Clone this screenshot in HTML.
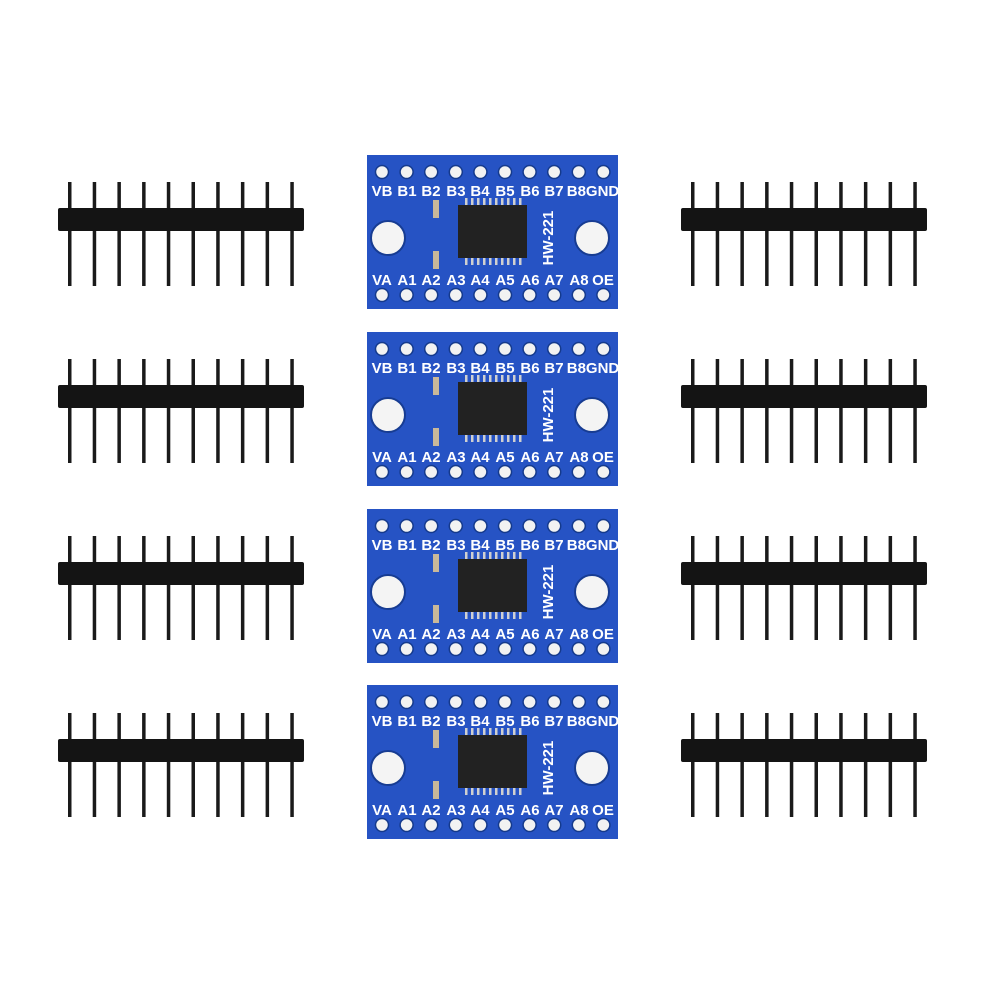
<!DOCTYPE html>
<html><head><meta charset="utf-8"><style>
html,body{margin:0;padding:0;background:#fff;}
svg{display:block}
.l{font-family:"Liberation Sans",sans-serif;font-weight:bold;font-size:15px;fill:#fff;}
</style></head><body>
<svg width="1001" height="1000" viewBox="0 0 1001 1000" xmlns="http://www.w3.org/2000/svg">
<defs>
<g id="hdr">
  <g fill="#1a1a1a">
    <rect x="0" y="0" width="3.5" height="104"/><rect x="24.7" y="0" width="3.5" height="104"/>
    <rect x="49.4" y="0" width="3.5" height="104"/><rect x="74.1" y="0" width="3.5" height="104"/>
    <rect x="98.8" y="0" width="3.5" height="104"/><rect x="123.5" y="0" width="3.5" height="104"/>
    <rect x="148.2" y="0" width="3.5" height="104"/><rect x="172.9" y="0" width="3.5" height="104"/>
    <rect x="197.6" y="0" width="3.5" height="104"/><rect x="222.3" y="0" width="3.5" height="104"/>
  </g>
  <rect x="-10" y="26" width="246" height="23" rx="2" fill="#141414"/>
</g>
<g id="holes">
  <g fill="#f2f2f2" stroke="#153a8c" stroke-width="1.5">
    <circle cx="15" cy="0" r="6.5"/><circle cx="39.6" cy="0" r="6.5"/><circle cx="64.2" cy="0" r="6.5"/>
    <circle cx="88.8" cy="0" r="6.5"/><circle cx="113.4" cy="0" r="6.5"/><circle cx="138" cy="0" r="6.5"/>
    <circle cx="162.6" cy="0" r="6.5"/><circle cx="187.2" cy="0" r="6.5"/><circle cx="211.8" cy="0" r="6.5"/>
    <circle cx="236.4" cy="0" r="6.5"/>
  </g>
</g>
<g id="body">
  <rect x="0" y="0" width="251" height="154" fill="#2653c4"/>
  <use href="#holes" y="17"/>
  <use href="#holes" y="140"/>
  <circle cx="21" cy="83" r="17" fill="#f4f4f4" stroke="#173c92" stroke-width="2"/>
  <circle cx="225" cy="83" r="17" fill="#f4f4f4" stroke="#173c92" stroke-width="2"/>
  <g fill="#d0d0d0">
    <rect x="98" y="43" width="2.5" height="8"/><rect x="104" y="43" width="2.5" height="8"/><rect x="110" y="43" width="2.5" height="8"/><rect x="116" y="43" width="2.5" height="8"/><rect x="122" y="43" width="2.5" height="8"/><rect x="128" y="43" width="2.5" height="8"/><rect x="134" y="43" width="2.5" height="8"/><rect x="140" y="43" width="2.5" height="8"/><rect x="146" y="43" width="2.5" height="8"/><rect x="152" y="43" width="2.5" height="8"/>
    <rect x="98" y="102" width="2.5" height="8"/><rect x="104" y="102" width="2.5" height="8"/><rect x="110" y="102" width="2.5" height="8"/><rect x="116" y="102" width="2.5" height="8"/><rect x="122" y="102" width="2.5" height="8"/><rect x="128" y="102" width="2.5" height="8"/><rect x="134" y="102" width="2.5" height="8"/><rect x="140" y="102" width="2.5" height="8"/><rect x="146" y="102" width="2.5" height="8"/><rect x="152" y="102" width="2.5" height="8"/>
  </g>
  <rect x="91" y="50" width="69" height="53" fill="#222"/>
  <rect x="66" y="45" width="6" height="18" fill="#c9b89a"/>
  <rect x="66" y="96" width="6" height="18" fill="#c9b89a"/>
</g>
</defs>

<use href="#hdr" x="68" y="182"/><use href="#hdr" x="691" y="182"/>
<use href="#hdr" x="68" y="359"/><use href="#hdr" x="691" y="359"/>
<use href="#hdr" x="68" y="536"/><use href="#hdr" x="691" y="536"/>
<use href="#hdr" x="68" y="713"/><use href="#hdr" x="691" y="713"/>

<g transform="translate(367,155)">
<use href="#body"/>
<g class="l" text-anchor="middle"><text x="15" y="41">VB</text><text x="40" y="41">B1</text><text x="64" y="41">B2</text><text x="89" y="41">B3</text><text x="113" y="41">B4</text><text x="138" y="41">B5</text><text x="163" y="41">B6</text><text x="187" y="41">B7</text><text x="226" y="41">B8GND</text></g>
<g class="l" text-anchor="middle"><text x="15" y="130">VA</text><text x="40" y="130">A1</text><text x="64" y="130">A2</text><text x="89" y="130">A3</text><text x="113" y="130">A4</text><text x="138" y="130">A5</text><text x="163" y="130">A6</text><text x="187" y="130">A7</text><text x="212" y="130">A8</text><text x="236" y="130">OE</text></g>
<text class="l" transform="translate(186,83) rotate(-90)" text-anchor="middle" font-size="11">HW-221</text>
</g>
<g transform="translate(367,332)">
<use href="#body"/>
<g class="l" text-anchor="middle"><text x="15" y="41">VB</text><text x="40" y="41">B1</text><text x="64" y="41">B2</text><text x="89" y="41">B3</text><text x="113" y="41">B4</text><text x="138" y="41">B5</text><text x="163" y="41">B6</text><text x="187" y="41">B7</text><text x="226" y="41">B8GND</text></g>
<g class="l" text-anchor="middle"><text x="15" y="130">VA</text><text x="40" y="130">A1</text><text x="64" y="130">A2</text><text x="89" y="130">A3</text><text x="113" y="130">A4</text><text x="138" y="130">A5</text><text x="163" y="130">A6</text><text x="187" y="130">A7</text><text x="212" y="130">A8</text><text x="236" y="130">OE</text></g>
<text class="l" transform="translate(186,83) rotate(-90)" text-anchor="middle" font-size="11">HW-221</text>
</g>
<g transform="translate(367,509)">
<use href="#body"/>
<g class="l" text-anchor="middle"><text x="15" y="41">VB</text><text x="40" y="41">B1</text><text x="64" y="41">B2</text><text x="89" y="41">B3</text><text x="113" y="41">B4</text><text x="138" y="41">B5</text><text x="163" y="41">B6</text><text x="187" y="41">B7</text><text x="226" y="41">B8GND</text></g>
<g class="l" text-anchor="middle"><text x="15" y="130">VA</text><text x="40" y="130">A1</text><text x="64" y="130">A2</text><text x="89" y="130">A3</text><text x="113" y="130">A4</text><text x="138" y="130">A5</text><text x="163" y="130">A6</text><text x="187" y="130">A7</text><text x="212" y="130">A8</text><text x="236" y="130">OE</text></g>
<text class="l" transform="translate(186,83) rotate(-90)" text-anchor="middle" font-size="11">HW-221</text>
</g>
<g transform="translate(367,685)">
<use href="#body"/>
<g class="l" text-anchor="middle"><text x="15" y="41">VB</text><text x="40" y="41">B1</text><text x="64" y="41">B2</text><text x="89" y="41">B3</text><text x="113" y="41">B4</text><text x="138" y="41">B5</text><text x="163" y="41">B6</text><text x="187" y="41">B7</text><text x="226" y="41">B8GND</text></g>
<g class="l" text-anchor="middle"><text x="15" y="130">VA</text><text x="40" y="130">A1</text><text x="64" y="130">A2</text><text x="89" y="130">A3</text><text x="113" y="130">A4</text><text x="138" y="130">A5</text><text x="163" y="130">A6</text><text x="187" y="130">A7</text><text x="212" y="130">A8</text><text x="236" y="130">OE</text></g>
<text class="l" transform="translate(186,83) rotate(-90)" text-anchor="middle" font-size="11">HW-221</text>
</g>
</svg>
</body></html>
